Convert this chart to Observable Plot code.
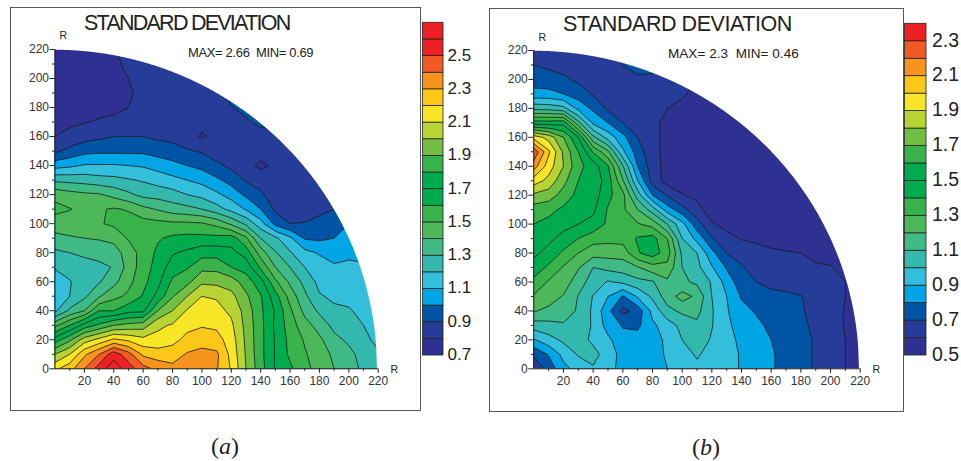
<!DOCTYPE html>
<html>
<head>
<meta charset="utf-8">
<script src="https://cdn.jsdelivr.net/npm/d3@7"></script>
<script src="https://cdn.jsdelivr.net/npm/@observablehq/plot@0.6"></script>
<style>
html,body{margin:0;padding:0;background:#fff;}
#page{position:relative;width:961px;height:461px;overflow:hidden;font-family:"Liberation Sans",Arial,sans-serif;color:#222;}
#page svg{position:absolute;top:0;background:transparent;}
.frame{position:absolute;border:1.5px solid #555;box-sizing:border-box;}
.t{position:absolute;white-space:nowrap;line-height:1;}
.cap{position:absolute;font-family:"Liberation Serif",serif;font-size:24px;line-height:1;transform:translateX(-50%);}
</style>
</head>
<body>
<div id="page"></div>
<script>
const radius = 220;
const xTicks = [20,40,60,80,100,120,140,160,180,200,220];
const yTicks = [0,20,40,60,80,100,120,140,160,180,200,220];
const minorTicks = [10,30,50,70,90,110,130,150,170,190,210];
const palette = ["#2e3192","#253c98","#0054a6","#00a5e6","#33bedb","#33b8ae","#3fb985","#4cb85a","#37b34a","#00ab4e","#00ab4e","#37b34a","#72bf44","#b8d433","#f6e626","#fdc717","#f7941e","#f15a25","#ed2024","#ed2024"];

const levelsA = [0.7,0.8,0.9,1.0,1.1,1.2,1.3,1.4,1.5,1.6,1.7,1.8,1.9,2.0,2.1,2.2,2.3,2.4,2.5,2.6];
const barLabelsA = [0.7,0.9,1.1,1.3,1.5,1.7,1.9,2.1,2.3,2.5];
const levelsB = [0.5,0.6,0.7,0.8,0.9,1.0,1.1,1.2,1.3,1.4,1.5,1.6,1.7,1.8,1.9,2.0,2.1,2.2,2.3];
const barLabelsB = [0.5,0.7,0.9,1.1,1.3,1.5,1.7,1.9,2.1,2.3];

// one row per R = 0,10,...,220; one column per R = 0,10,...,220
const rowsA = [
[2.18,2.26,2.40,2.55,2.66,2.55,2.44,2.37,2.33,2.33,2.37,2.31,2.19,2.00,1.84,1.69,1.62,1.53,1.46,1.40,1.34,1.28,1.23],
[2.00,2.10,2.28,2.40,2.56,2.44,2.28,2.25,2.25,2.31,2.33,2.32,2.17,1.99,1.83,1.69,1.58,1.51,1.45,1.38,1.33,1.26,1.21],
[1.75,1.88,2.05,2.13,2.22,2.18,2.13,2.13,2.17,2.23,2.26,2.24,2.15,1.98,1.83,1.69,1.57,1.49,1.42,1.33,1.28,1.22,1.18],
[1.47,1.60,1.74,1.82,1.90,1.93,1.95,2.08,2.11,2.17,2.19,2.18,2.12,1.97,1.83,1.68,1.55,1.44,1.36,1.27,1.24,1.20,1.15],
[1.18,1.32,1.40,1.60,1.60,1.67,1.68,1.90,2.00,2.11,2.15,2.13,2.08,1.96,1.82,1.69,1.52,1.37,1.28,1.22,1.21,1.17,1.13],
[1.13,1.20,1.28,1.39,1.47,1.52,1.61,1.73,1.89,2.00,2.10,2.09,2.03,1.92,1.81,1.64,1.46,1.32,1.21,1.18,1.17,1.15,1.12],
[1.14,1.195,1.24,1.29,1.37,1.47,1.57,1.67,1.82,1.87,1.98,1.97,1.95,1.85,1.74,1.52,1.38,1.27,1.17,1.15,1.14,1.13,1.11],
[1.21,1.23,1.26,1.28,1.305,1.44,1.55,1.64,1.75,1.79,1.87,1.87,1.80,1.76,1.58,1.40,1.30,1.20,1.15,1.11,1.11,1.11,1.10],
[1.28,1.30,1.32,1.33,1.35,1.45,1.54,1.62,1.69,1.72,1.76,1.76,1.73,1.66,1.45,1.31,1.21,1.13,1.09,1.07,1.09,1.08,1.07],
[1.37,1.39,1.40,1.41,1.43,1.51,1.55,1.59,1.62,1.63,1.63,1.63,1.65,1.52,1.30,1.22,1.12,0.99,0.98,1.00,1.02,1.02,1.02],
[1.45,1.45,1.46,1.49,1.52,1.55,1.54,1.53,1.52,1.52,1.51,1.47,1.38,1.28,1.14,0.97,0.90,0.905,0.93,0.95,1.00,1.00,1.00],
[1.53,1.505,1.47,1.49,1.51,1.49,1.43,1.39,1.35,1.33,1.30,1.24,1.17,1.09,1.00,0.88,0.85,0.85,0.875,0.90,0.93,0.95,0.95],
[1.47,1.44,1.42,1.41,1.37,1.32,1.27,1.26,1.24,1.20,1.17,1.12,1.06,0.98,0.92,0.84,0.83,0.83,0.85,0.87,0.88,0.90,0.90],
[1.28,1.27,1.26,1.24,1.23,1.21,1.19,1.16,1.13,1.10,1.07,1.02,0.96,0.89,0.85,0.83,0.83,0.83,0.85,0.87,0.88,0.90,0.90],
[1.06,1.08,1.11,1.11,1.11,1.10,1.09,1.06,1.03,1.00,0.97,0.92,0.88,0.83,0.78,0.82,0.84,0.84,0.85,0.87,0.87,0.90,0.90],
[0.88,0.93,0.97,0.98,0.98,0.98,0.98,0.96,0.94,0.91,0.89,0.85,0.83,0.83,0.83,0.83,0.84,0.85,0.85,0.87,0.87,0.90,0.90],
[0.80,0.83,0.86,0.88,0.90,0.90,0.90,0.88,0.87,0.84,0.79,0.82,0.82,0.83,0.85,0.85,0.85,0.86,0.86,0.87,0.88,0.90,0.90],
[0.77,0.78,0.795,0.81,0.82,0.84,0.86,0.84,0.83,0.82,0.82,0.82,0.82,0.88,0.93,0.92,0.90,0.89,0.88,0.88,0.88,0.90,0.90],
[0.75,0.76,0.77,0.77,0.78,0.80,0.83,0.82,0.83,0.82,0.82,0.83,0.89,0.94,0.98,0.95,0.92,0.90,0.90,0.90,0.90,0.90,0.90],
[0.74,0.74,0.75,0.75,0.76,0.79,0.82,0.82,0.83,0.83,0.82,0.86,0.95,0.98,1.00,0.97,0.95,0.90,0.90,0.90,0.90,0.90,0.90],
[0.73,0.73,0.73,0.74,0.77,0.80,0.84,0.83,0.85,0.84,0.83,0.86,0.95,1.00,1.00,0.97,0.95,0.90,0.90,0.90,0.90,0.90,0.90],
[0.72,0.72,0.72,0.73,0.78,0.82,0.85,0.84,0.85,0.84,0.83,0.86,0.95,1.00,1.00,0.97,0.95,0.90,0.90,0.90,0.90,0.90,0.90],
[0.72,0.72,0.71,0.73,0.79,0.83,0.86,0.85,0.85,0.84,0.83,0.86,0.95,1.00,1.00,0.97,0.95,0.90,0.90,0.90,0.90,0.90,0.90]
];
const rowsB = [
[0.62,0.74,0.87,0.94,0.99,0.93,0.87,0.87,0.88,0.90,0.95,0.98,0.96,0.94,0.89,0.85,0.81,0.77,0.73,0.69,0.64,0.60,0.56],
[0.72,0.81,0.93,1.01,1.03,0.96,0.86,0.86,0.87,0.91,0.97,1.01,0.97,0.94,0.89,0.85,0.81,0.77,0.73,0.69,0.64,0.60,0.56],
[0.89,0.96,1.02,1.04,0.98,0.92,0.84,0.84,0.86,0.92,1.00,1.05,0.99,0.93,0.88,0.84,0.80,0.76,0.73,0.69,0.64,0.60,0.56],
[1.05,1.07,1.09,1.08,0.985,0.86,0.79,0.78,0.88,0.95,1.03,1.08,1.005,0.92,0.86,0.82,0.78,0.75,0.72,0.68,0.63,0.595,0.56],
[1.21,1.17,1.14,1.09,0.98,0.83,0.67,0.74,0.93,1.07,1.12,1.13,1.01,0.91,0.83,0.79,0.76,0.74,0.71,0.67,0.63,0.595,0.56],
[1.29,1.26,1.19,1.095,0.995,0.90,0.79,0.91,1.02,1.15,1.24,1.18,1.00,0.90,0.79,0.76,0.73,0.72,0.705,0.66,0.63,0.60,0.56],
[1.37,1.29,1.26,1.14,1.06,0.99,1.02,1.07,1.09,1.18,1.12,1.08,0.99,0.86,0.74,0.70,0.67,0.66,0.64,0.64,0.63,0.60,0.55],
[1.46,1.38,1.29,1.21,1.10,1.13,1.15,1.19,1.26,1.27,1.10,1.03,0.91,0.79,0.71,0.66,0.64,0.63,0.62,0.61,0.605,0.57,0.55],
[1.52,1.47,1.38,1.30,1.24,1.24,1.24,1.39,1.45,1.35,1.08,1.00,0.83,0.70,0.66,0.62,0.61,0.605,0.60,0.58,0.57,0.55,0.54],
[1.56,1.52,1.47,1.40,1.34,1.33,1.34,1.41,1.44,1.30,1.00,0.87,0.71,0.63,0.595,0.59,0.58,0.57,0.56,0.55,0.54,0.53,0.53],
[1.60,1.57,1.53,1.50,1.47,1.38,1.33,1.31,1.26,1.10,0.93,0.74,0.61,0.57,0.56,0.56,0.55,0.55,0.54,0.53,0.52,0.52,0.52],
[1.65,1.63,1.58,1.55,1.52,1.39,1.32,1.20,1.05,0.85,0.74,0.63,0.55,0.55,0.54,0.54,0.53,0.52,0.52,0.52,0.52,0.52,0.52],
[1.78,1.75,1.66,1.57,1.55,1.43,1.33,1.05,0.80,0.69,0.605,0.58,0.54,0.54,0.53,0.53,0.52,0.52,0.52,0.52,0.52,0.52,0.52],
[1.95,1.87,1.73,1.60,1.57,1.45,1.21,0.90,0.66,0.56,0.56,0.54,0.54,0.53,0.52,0.52,0.52,0.52,0.52,0.52,0.52,0.52,0.52],
[2.15,1.95,1.80,1.63,1.55,1.41,1.11,0.80,0.65,0.56,0.55,0.54,0.53,0.53,0.52,0.52,0.52,0.52,0.52,0.52,0.52,0.52,0.52],
[2.28,2.02,1.78,1.60,1.39,1.22,0.92,0.75,0.63,0.57,0.54,0.54,0.53,0.53,0.52,0.52,0.52,0.52,0.52,0.52,0.52,0.52,0.52],
[1.96,1.86,1.70,1.50,1.12,0.96,0.83,0.70,0.62,0.58,0.54,0.54,0.53,0.53,0.52,0.52,0.52,0.52,0.52,0.52,0.52,0.52,0.52],
[1.45,1.45,1.46,1.13,0.88,0.80,0.70,0.655,0.62,0.58,0.55,0.54,0.54,0.53,0.52,0.52,0.52,0.52,0.52,0.52,0.52,0.52,0.52],
[1.07,1.06,1.03,0.87,0.78,0.68,0.65,0.63,0.61,0.60,0.57,0.56,0.55,0.53,0.52,0.52,0.52,0.52,0.52,0.52,0.52,0.52,0.52],
[0.83,0.83,0.80,0.75,0.69,0.65,0.63,0.62,0.63,0.61,0.615,0.57,0.56,0.54,0.52,0.52,0.52,0.52,0.52,0.52,0.52,0.52,0.52],
[0.757,0.74,0.72,0.68,0.65,0.63,0.65,0.68,0.67,0.65,0.62,0.59,0.58,0.55,0.52,0.52,0.52,0.52,0.52,0.52,0.52,0.52,0.52],
[0.70,0.68,0.66,0.63,0.62,0.62,0.70,0.74,0.74,0.68,0.64,0.60,0.58,0.55,0.52,0.52,0.52,0.52,0.52,0.52,0.52,0.52,0.52],
[0.65,0.63,0.62,0.61,0.61,0.65,0.75,0.76,0.75,0.70,0.66,0.60,0.58,0.55,0.52,0.52,0.52,0.52,0.52,0.52,0.52,0.52,0.52]
];

const page = document.getElementById("page");
const rim = d3.range(0, radius + 0.5, 0.5);

function addText(cls, html, style) {
  const d = document.createElement("div");
  d.className = cls;
  d.innerHTML = html;
  d.style.cssText = style;
  page.appendChild(d);
}

function contourPanel(rows, levels, left, width, m) {
  const values = rows.flat();
  const svg = Plot.plot({
    width, height: 461,
    marginLeft: m.l, marginRight: m.r, marginTop: m.t, marginBottom: m.b,
    style: {background: "transparent", left: left + "px", color: "#333", overflow: "visible", fontFamily: "Liberation Sans"},
    x: {domain: [0, radius]},
    y: {domain: [0, radius]},
    color: {type: "ordinal", domain: levels, range: palette.slice(0, levels.length)},
    marks: [
      Plot.contour(values, {
        width: rows[0].length, height: rows.length,
        x1: -5, x2: 225, y1: -5, y2: 225,
        value: Plot.identity, fill: "value", thresholds: levels,
        stroke: "#1a1a1a", strokeWidth: 0.8, clip: true
      }),
      Plot.areaY(rim, {x: d => d, y1: d => Math.sqrt(radius * radius - d * d), y2: radius, fill: "white", stroke: "white", strokeWidth: 1.5}),
      Plot.ruleY([0], {stroke: "#222", strokeWidth: 1}),
      Plot.ruleX([0], {stroke: "#222", strokeWidth: 1}),
      Plot.axisX({ticks: xTicks, tickSize: 4.5, tickPadding: 3, fontSize: 12, label: null, stroke: "#222"}),
      Plot.axisX({ticks: minorTicks, tickSize: 2.5, tickFormat: () => "", label: null, stroke: "#222"}),
      Plot.axisY({ticks: yTicks, tickSize: 5, tickPadding: 1, fontSize: 12, label: null, stroke: "#222"}),
      Plot.axisY({ticks: minorTicks, tickSize: 2.5, tickFormat: () => "", label: null, stroke: "#222"})
    ]
  });
  page.appendChild(svg);
}

function colorBar(levels, labels, left, b, fontSize) {
  const step = 0.1;
  const svg = Plot.plot({
    width: 70, height: 461,
    marginLeft: b.l, marginRight: 70 - b.r, marginTop: b.t, marginBottom: 461 - b.bottom,
    style: {background: "transparent", left: left + "px", overflow: "visible"},
    x: {axis: null, domain: [0, 1]},
    y: {axis: null, domain: [levels[0], levels[levels.length - 1] + step]},
    color: {type: "ordinal", domain: levels, range: palette.slice(0, levels.length)},
    marks: [
      Plot.rect(levels, {x1: 0, x2: 1, y1: d => d, y2: d => d + step, fill: d => d, stroke: "#222", strokeWidth: 0.8}),
      Plot.text(labels, {x: 1, y: d => d, text: d => d.toFixed(1), dx: b.dx, dy: -1, textAnchor: "start", fontSize, fill: "#222", fontFamily: "Liberation Sans"})
    ]
  });
  page.appendChild(svg);
}

addText("frame", "", "left:10px;top:7px;width:411px;height:404px;");
addText("frame", "", "left:488.5px;top:8px;width:415px;height:403.5px;");

contourPanel(rowsA, levelsA, 0, 480, {l: 54.5, r: 102.3, t: 49, b: 92.7});
contourPanel(rowsB, levelsB, 480, 481, {l: 53.3, r: 101.3, t: 50, b: 92.7});
colorBar(levelsA, barLabelsA, 415, {l: 7.5, r: 28, t: 22.3, bottom: 355, dx: 4}, 17);
colorBar(levelsB, barLabelsB, 891, {l: 13.5, r: 35, t: 23.3, bottom: 355, dx: 5.5}, 19.5);

addText("t", "STANDARD DEVIATION", "left:84px;top:12.5px;font-size:21.5px;letter-spacing:-1.75px;");
addText("t", "STANDARD DEVIATION", "left:563px;top:13.5px;font-size:21.5px;letter-spacing:-0.45px;");
addText("t", "MAX= 2.66&nbsp; MIN= 0.69", "left:188px;top:46px;font-size:13px;letter-spacing:-0.35px;");
addText("t", "MAX= 2.3&nbsp; MIN= 0.46", "left:668px;top:47px;font-size:13.5px;letter-spacing:0.05px;");
addText("t", "R", "left:59.5px;top:30px;font-size:10.5px;");
addText("t", "R", "left:538.5px;top:32px;font-size:10.5px;");
addText("t", "R", "left:390.5px;top:364px;font-size:10.5px;");
addText("t", "R", "left:872.5px;top:364px;font-size:10.5px;");
addText("cap", "(<i>a</i>)", "left:225px;top:434px;");
addText("cap", "(<i>b</i>)", "left:706px;top:435px;");
</script>
</body>
</html>
